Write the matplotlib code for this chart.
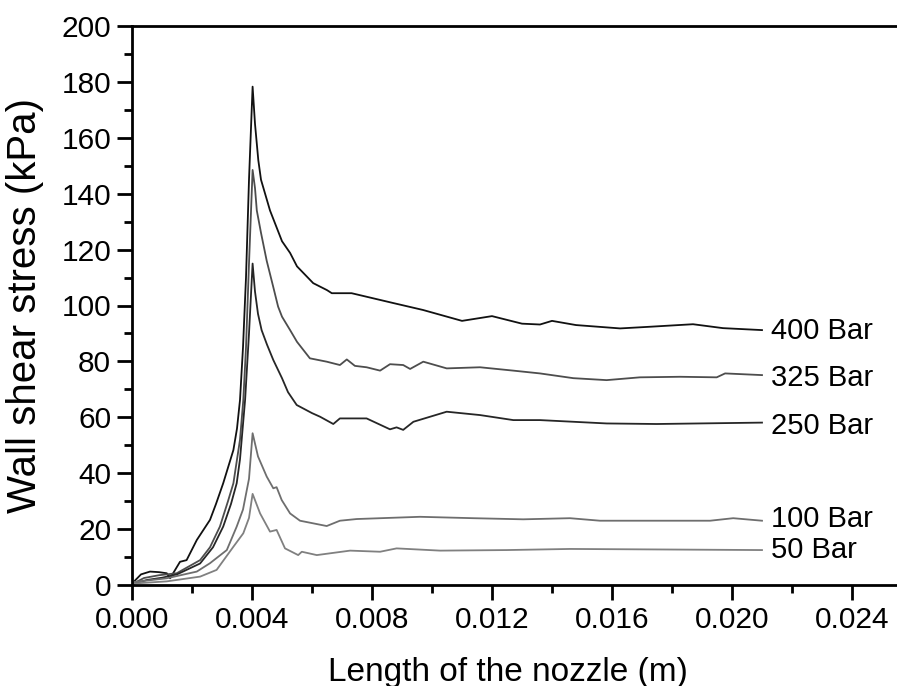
import numpy as np
import matplotlib.pyplot as plt
from matplotlib.ticker import MultipleLocator

plt.rcParams['font.family'] = ['Liberation Sans', 'DejaVu Sans']

# values (x in m, y in kPa)
x400 = [0.0, 0.0003, 0.0006, 0.0009, 0.00116, 0.00127, 0.0016, 0.00182, 0.00216, 0.0026,
        0.0028, 0.00304, 0.0032, 0.00338, 0.0035, 0.0036, 0.0037, 0.0038, 0.0039, 0.00402,
        0.0041, 0.00421, 0.0043, 0.0046, 0.005, 0.00527, 0.0055, 0.00604, 0.0065, 0.00666,
        0.00732, 0.0087, 0.0097, 0.011, 0.012, 0.013, 0.0136, 0.014, 0.0148, 0.01627,
        0.01727, 0.0187, 0.0197, 0.021]
y400 = [0.5, 3.8, 4.8, 4.6, 4.2, 2.4, 8.3, 8.9, 16.1, 23.3,
        29.0, 36.4, 42.0, 48.3, 56.0, 66.2, 85, 110, 145, 178.3,
        165, 152, 145, 134, 123, 118.8, 114, 108, 105.5, 104.4,
        104.4, 100.9, 98.4, 94.5, 96.2, 93.5, 93.2, 94.5, 93.0, 91.8,
        92.4, 93.3, 91.9, 91.2]

x325 = [0.0, 0.0004, 0.0009, 0.00149, 0.00227, 0.0026, 0.00293, 0.0032, 0.00338, 0.0036,
        0.00371, 0.0038, 0.0039, 0.00402, 0.0041, 0.00416, 0.0043, 0.00449, 0.0047, 0.00487,
        0.005, 0.00527, 0.0055, 0.00593, 0.00649, 0.00693, 0.00716, 0.00743, 0.00782, 0.00827,
        0.0086, 0.00904, 0.00927, 0.00971, 0.01049, 0.0116, 0.01271, 0.0136, 0.01471, 0.01582,
        0.01693, 0.01827, 0.01949, 0.01977, 0.021]
y325 = [0.3, 2.5, 3.5, 4.2, 8.9, 13.5, 20.9, 30.0, 36.4, 52.0,
        66.2, 85, 115, 148.5, 142, 134, 126, 116, 107, 99.6,
        96.0, 91.2, 87.0, 81.1, 79.9, 78.7, 80.7, 78.4, 77.9, 76.7,
        79.0, 78.7, 77.3, 79.9, 77.5, 77.9, 76.7, 75.7, 74.0, 73.3,
        74.3, 74.5, 74.3, 75.7, 75.1]

x250 = [0.0, 0.0005, 0.001, 0.0015, 0.00227, 0.0027, 0.00304, 0.0033, 0.00349, 0.0036,
        0.00377, 0.0039, 0.00402, 0.0041, 0.0042, 0.00432, 0.0045, 0.00471, 0.005, 0.0052,
        0.00549, 0.006, 0.00627, 0.00671, 0.00693, 0.00782, 0.0086, 0.00882, 0.00904, 0.00938,
        0.01049, 0.0116, 0.01271, 0.0136, 0.01582, 0.01749, 0.021]
y250 = [0.3, 1.8, 2.6, 3.8, 7.7, 13.5, 20.9, 29.0, 36.4, 45.0,
        66.2, 90, 115, 105, 97, 91.2, 86.0, 80.5, 74.0, 69.0,
        64.4, 61.5, 60.2, 57.6, 59.6, 59.6, 55.7, 56.4, 55.5, 58.4,
        62.0, 60.8, 59.0, 59.0, 57.8, 57.6, 58.1]

x100 = [0.0, 0.00116, 0.00216, 0.0026, 0.00316, 0.00349, 0.0037, 0.0039, 0.00402, 0.0042,
        0.00449, 0.00471, 0.00482, 0.00499, 0.00527, 0.0056, 0.00649, 0.00693, 0.00749, 0.0096,
        0.01138, 0.01304, 0.0146, 0.0156, 0.01927, 0.02004, 0.021]
y100 = [1.0, 2.4, 4.8, 7.8, 12.5, 20.9, 27.0, 38.0, 54.3, 46.0,
        38.8, 34.6, 35.0, 30.4, 25.6, 23.0, 21.1, 23.0, 23.6, 24.4,
        23.9, 23.5, 23.9, 23.0, 23.0, 23.9, 23.0]

x50 = [0.0, 0.00116, 0.00227, 0.00282, 0.00338, 0.00371, 0.0039, 0.00402, 0.00427, 0.0046,
       0.00482, 0.0051, 0.00554, 0.00566, 0.00616, 0.00727, 0.00827, 0.00882, 0.01027, 0.01249,
       0.0146, 0.021]
y50 = [0.5, 1.3, 3.0, 5.4, 13.7, 18.5, 24.0, 32.6, 25.6, 19.1,
       19.7, 13.1, 10.7, 11.9, 10.7, 12.3, 11.9, 13.1, 12.3, 12.5,
       12.9, 12.5]

series = [
    (x400, y400, '400 Bar', '#111111', 91),
    (x325, y325, '325 Bar', '#4d4d4d', 74),
    (x250, y250, '250 Bar', '#262626', 57),
    (x100, y100, '100 Bar', '#6e6e6e', 23.5),
    (x50, y50, '50 Bar', '#808080', 12.5),
]

fig = plt.figure(figsize=(8.97, 6.86), dpi=100)
ax = fig.add_axes([132/897, 101/686, 1 - 132/897, (585-26)/686])

for xs, ys, name, col, ylab in series:
    ax.plot(xs, ys, color=col, lw=1.3)
    ax.text(0.0213, ylab, name, fontsize=21, va='center', ha='left')

ax.set_xlim(0, 0.0255)
ax.set_ylim(0, 200)
ax.xaxis.set_major_locator(MultipleLocator(0.004))
ax.xaxis.set_minor_locator(MultipleLocator(0.002))
ax.yaxis.set_major_locator(MultipleLocator(20))
ax.yaxis.set_minor_locator(MultipleLocator(10))
ax.xaxis.set_major_formatter(plt.FuncFormatter(lambda v, p: f'{v:.3f}'))

ax.spines['right'].set_visible(False)
for s in ['left', 'bottom', 'top']:
    ax.spines[s].set_linewidth(2)
ax.tick_params(which='major', direction='out', length=11, width=2, labelsize=21.5, pad=4)
ax.tick_params(which='minor', direction='out', length=6, width=2)
ax.tick_params(top=False, right=False, which='both')

ax.set_xlabel('Length of the nozzle (m)', fontsize=24)
ax.set_ylabel('Wall shear stress (kPa)', fontsize=29)
ax.xaxis.set_label_coords(0.491, -0.128)
ax.yaxis.set_label_coords(-0.115, 0.5)

fig.savefig('out.png', dpi=100)
